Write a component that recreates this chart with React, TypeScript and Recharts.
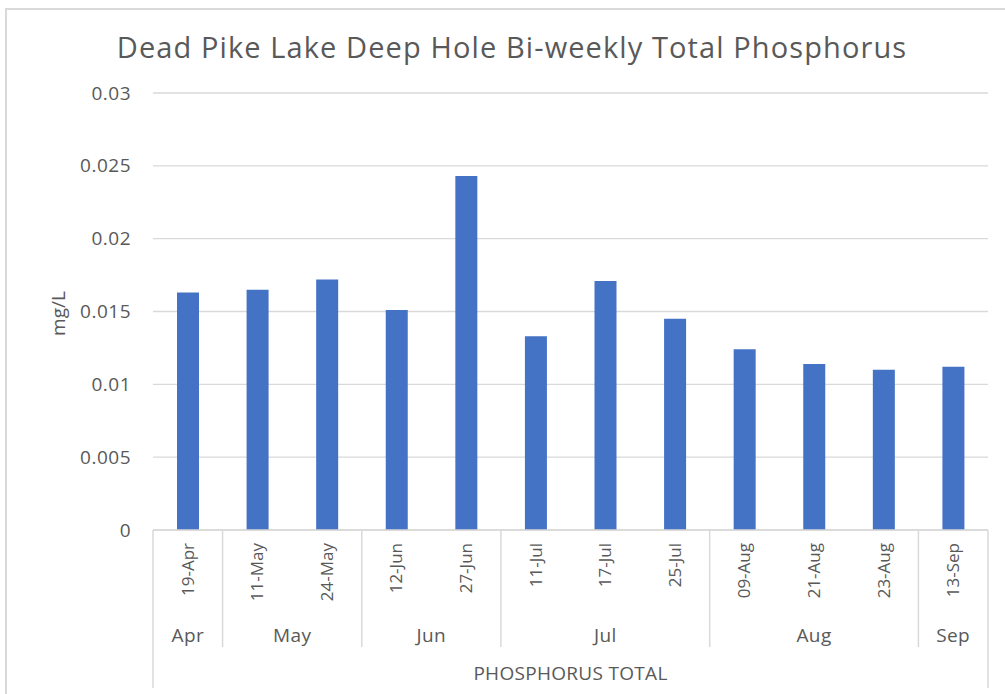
import React from 'react';
import { BarChart, Bar, XAxis, YAxis, CartesianGrid } from 'recharts';

const title = 'Dead Pike Lake Deep Hole Bi-weekly Total Phosphorus';
const seriesName = 'PHOSPHORUS TOTAL';
const yAxisLabel = 'mg/L';
const dates = ['19-Apr', '11-May', '24-May', '12-Jun', '27-Jun', '11-Jul', '17-Jul', '25-Jul', '09-Aug', '21-Aug', '23-Aug', '13-Sep'];
const months = ['Apr', 'May', 'May', 'Jun', 'Jun', 'Jul', 'Jul', 'Jul', 'Aug', 'Aug', 'Aug', 'Sep'];
const phosphorus = [0.0163, 0.0165, 0.0172, 0.0151, 0.0243, 0.0133, 0.0171, 0.0145, 0.0124, 0.0114, 0.011, 0.0112];
const yTicks = [0, 0.005, 0.01, 0.015, 0.02, 0.025, 0.03];

const data = dates.map((d, i) => ({ date: d, month: months[i], value: phosphorus[i] }));

const FONT = '"Open Sans", "Noto Sans", sans-serif';
const TEXT = '#595959';
const LINE = '#d9d9d9';

const CategoryTick = (props: any) => {
  const { x, y, index, width, payload } = props;
  const n = data.length;
  const bw = width ? width / n : (payload?.offset ?? 0) * 2;
  const left = x - bw / 2;
  const month = months[index];
  const isStart = index === 0 || months[index - 1] !== month;
  const isLast = index === n - 1;
  let count = 0;
  if (isStart) {
    let j = index;
    while (j < n && months[j] === month) {
      count++;
      j++;
    }
  }
  return (
    <g>
      <text
        transform={`translate(${x},${y + 13}) rotate(-90)`}
        textAnchor="end"
        dy="0.35em"
        fontSize={17}
        fontFamily={FONT}
        fill={TEXT}
      >
        {dates[index]}
      </text>
      {isStart && (
        <line x1={left} x2={left} y1={y} y2={index === 0 ? y + 158 : y + 117} stroke={LINE} strokeWidth={1.5} />
      )}
      {isStart && (
        <text x={left + (count * bw) / 2} y={y + 105} textAnchor="middle" dy="0.35em" fontSize={19} letterSpacing={0.4} fontFamily={FONT} fill={TEXT}>
          {month}
        </text>
      )}
      {isLast && <line x1={left + bw} x2={left + bw} y1={y} y2={y + 158} stroke={LINE} strokeWidth={1.5} />}
      {index === 0 && (
        <text x={left + (n * bw) / 2} y={y + 143} textAnchor="middle" dy="0.35em" fontSize={19} letterSpacing={0.3} fontFamily={FONT} fill={TEXT}>
          {seriesName}
        </text>
      )}
    </g>
  );
};

const YTick = (props: any) => {
  const { x, y, payload } = props;
  return (
    <text x={x} y={y} dy="0.35em" textAnchor="end" fontSize={19} letterSpacing={0.5} fontFamily={FONT} fill={TEXT}>
      {String(payload.value)}
    </text>
  );
};

export default function App() {
  return (
    <div style={{ position: 'absolute', left: 0, top: 0, width: 1005, height: 694, overflow: 'hidden', background: '#fff' }}>
      <div
        style={{
          position: 'absolute',
          left: 5,
          top: 8,
          width: 1100,
          height: 800,
          border: `2px solid ${LINE}`,
          boxSizing: 'border-box',
        }}
      />
      <div
        style={{
          position: 'absolute',
          left: 19,
          top: 30,
          width: 986,
          textAlign: 'center',
          fontFamily: FONT,
          fontSize: 29,
          letterSpacing: 1.1,
          lineHeight: '34px',
          color: TEXT,
          whiteSpace: 'nowrap',
        }}
      >
        {title}
      </div>
      <div style={{ position: 'absolute', left: 0, top: 0 }}>
        <BarChart width={1005} height={694} data={data} margin={{ top: 93, right: 17, bottom: 0, left: 6 }}>
          <CartesianGrid horizontal vertical={false} stroke={LINE} strokeWidth={1.3} />
          <YAxis
            domain={[0, 0.03]}
            ticks={yTicks}
            width={147}
            axisLine={false}
            tickLine={false}
            tickSize={0}
            tickMargin={22}
            tick={<YTick />}
            interval={0}
            label={{
              content: (p: any) => {
                const vb = p.viewBox || {};
                return (
                  <text
                    transform={`translate(${vb.x + 52},${vb.y + vb.height / 2 + 2}) rotate(-90)`}
                    textAnchor="middle"
                    dy="0.35em"
                    fontSize={19}
                    fontFamily={FONT}
                    fill={TEXT}
                  >
                    {yAxisLabel}
                  </text>
                );
              },
            }}
          />
          <XAxis
            dataKey="date"
            height={164}
            interval={0}
            tickLine={false}
            tickSize={0}
            tickMargin={0}
            axisLine={{ stroke: LINE, strokeWidth: 1.5 }}
            tick={<CategoryTick />}
          />
          <Bar dataKey="value" fill="#4472C4" barSize={22} isAnimationActive={false} />
        </BarChart>
      </div>
    </div>
  );
}
